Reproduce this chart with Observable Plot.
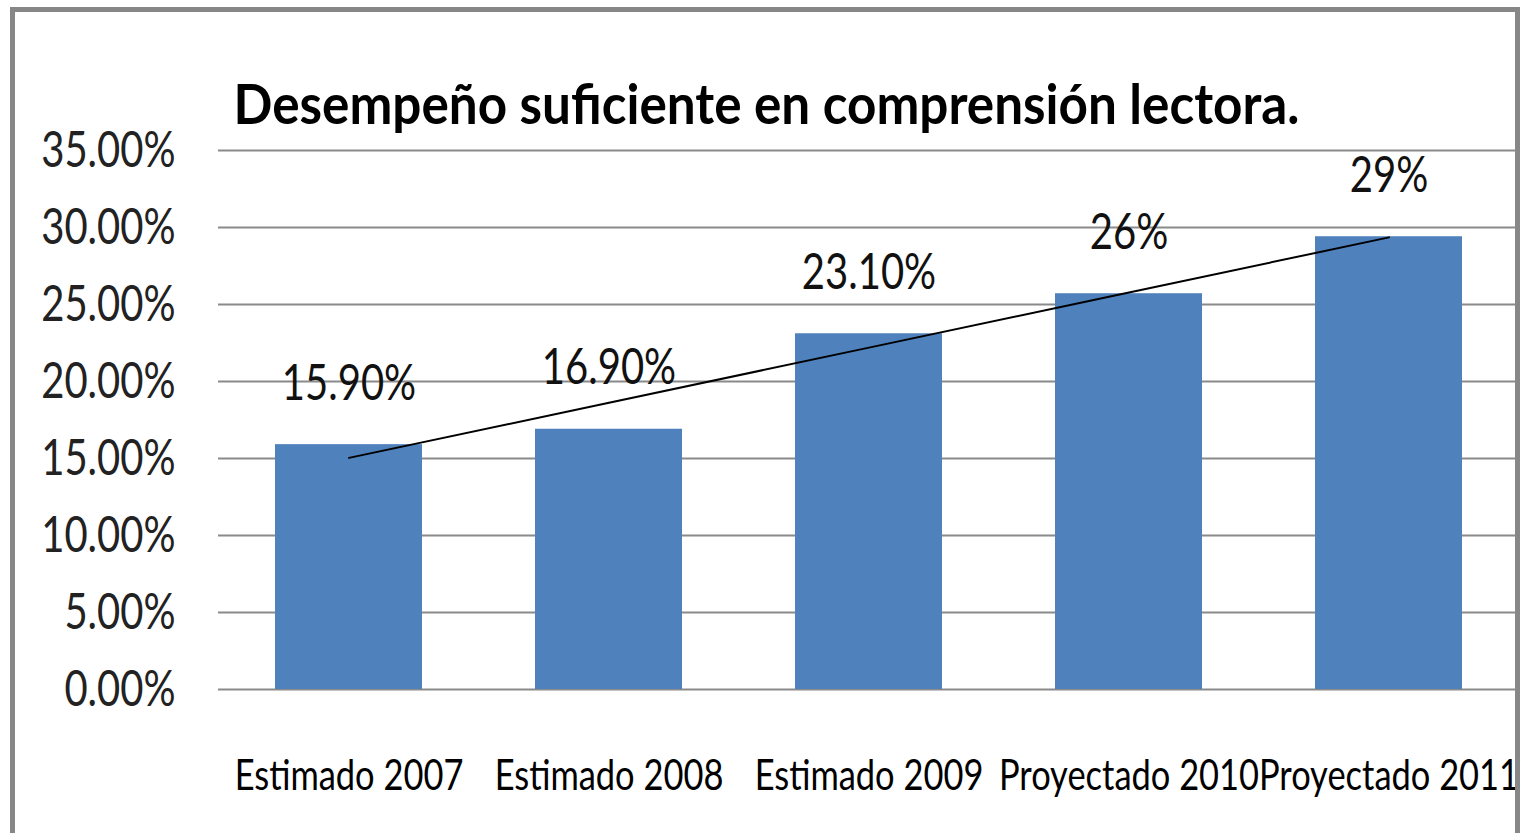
<!DOCTYPE html>
<html>
<head>
<meta charset="utf-8">
<script src="https://cdn.jsdelivr.net/npm/d3@7"></script>
<script src="https://cdn.jsdelivr.net/npm/@observablehq/plot@0.6"></script>
<style>
  html, body { margin: 0; padding: 0; background: #fff; overflow: hidden; }
  #wrap { position: relative; width: 1520px; height: 833px; overflow: hidden; }
  #frame { position: absolute; left: 10px; top: 7px; width: 1500px; height: 900px;
           border: 5px solid #878787; border-bottom: none; pointer-events: none; }
</style>
</head>
<body>
<div id="wrap"><div id="chart"></div><div id="frame"></div></div>
<script>
const title = "Desempeño suficiente en comprensión lectora.";
const categories = ["Estimado 2007", "Estimado 2008", "Estimado 2009", "Proyectado 2010", "Proyectado 2011"];
const values = [15.9, 16.9, 23.1, 25.7, 29.4];
const valueLabels = ["15.90%", "16.90%", "23.10%", "26%", "29%"];
const yTicks = [0, 5, 10, 15, 20, 25, 30, 35];

const data = categories.map((c, i) => ({cat: c, value: values[i], label: valueLabels[i], idx: i}));

// linear trendline (least squares) over category index
const mx = d3.mean(data, d => d.idx), my = d3.mean(values);
const slope = d3.sum(data, d => (d.idx - mx) * (d.value - my)) / d3.sum(data, d => (d.idx - mx) ** 2);
const trend = data.map(d => ({cat: d.cat, value: my + slope * (d.idx - mx)}));

const FONT = "Lato, 'Open Sans', sans-serif";

const svg = Plot.plot({
  width: 1520,
  height: 833,
  marginLeft: 218,
  marginRight: 2,
  marginTop: 150,
  marginBottom: 144,
  style: {background: "transparent", fontFamily: FONT},
  x: {domain: categories, paddingInner: 0.435, paddingOuter: 0.2175, label: null},
  y: {domain: [0, 35], label: null},
  marks: [
    Plot.gridY(yTicks, {stroke: "#8a8a8a", strokeOpacity: 1, strokeWidth: 2}),
    Plot.axisY(yTicks, {tickSize: 0, tickPadding: 43, fontSize: 50, fill: "#222",
      tickFormat: d => d3.format(".2f")(d) + "%", label: null}),
    Plot.axisX({tickSize: 0, tickPadding: 71, fontSize: 42, fill: "#000", label: null}),
    Plot.barY(data, {x: "cat", y: "value", fill: "#4f81bd"}),
    Plot.line(trend, {x: "cat", y: "value", stroke: "#000", strokeWidth: 2}),
    Plot.text(data, {x: "cat", y: "value", text: "label", dy: -45, lineAnchor: "bottom",
      fontSize: 50, fill: "#111"}),
    Plot.text([title], {frameAnchor: "top-left", dx: 15, dy: -27, lineAnchor: "bottom",
      textAnchor: "start", fontSize: 56, fontWeight: "bold", fill: "#000"})
  ]
});
document.getElementById("chart").append(svg);
svg.querySelectorAll("text").forEach(t => {
  const len = t.getComputedTextLength();
  if (len > 0) {
    const s = t.textContent.trim();
    const k = s === title ? 0.915 : categories.includes(s) ? 0.82 : 0.8;
    t.setAttribute("textLength", (len * k).toFixed(1));
    t.setAttribute("lengthAdjust", "spacingAndGlyphs");
  }
});
</script>
</body>
</html>
